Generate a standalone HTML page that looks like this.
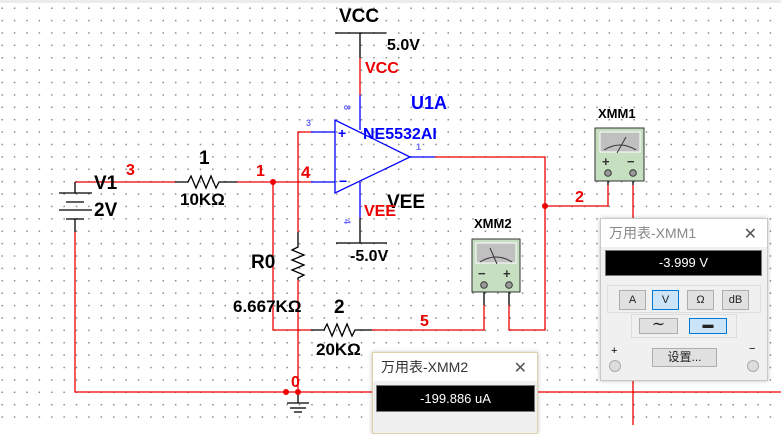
<!DOCTYPE html>
<html><head><meta charset="utf-8"><style>
html,body{margin:0;padding:0;width:781px;height:425px;overflow:hidden;background:#fff}
.bg{position:absolute;left:0;top:0;width:781px;height:425px;
background-image:radial-gradient(circle,#8a8a8a 0.7px,transparent 1px);
background-size:12.4px 12.4px;background-position:-4px 2px}
svg{position:absolute;left:0;top:0}
text{font-family:"Liberation Sans",Arial,sans-serif;font-weight:bold}
.win{position:absolute;background:#f0f0f0;border:1px solid #c8c8c8;box-shadow:0 0 4px rgba(0,0,0,.25);font-family:"Liberation Sans","Noto Sans CJK SC",sans-serif}
.tb{background:#fff;color:#888;font-size:14px;padding-left:8px;position:relative}
.x{position:absolute;right:10px;top:2px;font-size:16px;color:#555}
.disp{position:absolute;background:#000;color:#fff;text-align:center;font-size:13px;border:1px solid #777}
.btn{position:absolute;background:#e1e1e1;border:1px solid #adadad;font-size:11px;text-align:center;line-height:18px;color:#222}
.sel{background:#cce4f7;border-color:#0078d7}
</style></head><body>
<div class="bg"></div>
<div style="position:absolute;left:0;top:0;width:781px;height:3px;background:#ececec"></div>
<svg width="781" height="425" viewBox="0 0 781 425">
<g fill="none" stroke-width="1.3">
<line x1="335" y1="33" x2="386" y2="33" stroke="#000"/>
<line x1="360" y1="33" x2="360" y2="58" stroke="#000"/>
<line x1="360" y1="58" x2="360" y2="95" stroke="#e00"/>
<line x1="360" y1="95" x2="360" y2="130" stroke="#00f"/>
<line x1="360" y1="182" x2="360" y2="218" stroke="#00f"/>
<line x1="360" y1="218" x2="360" y2="243" stroke="#000"/>
<line x1="336" y1="243" x2="387" y2="243" stroke="#000"/>
<polygon points="335,120 335,193 410,157" stroke="#00f"/>
<line x1="311" y1="132" x2="335" y2="132" stroke="#00f"/>
<line x1="311" y1="182" x2="335" y2="182" stroke="#00f"/>
<line x1="410" y1="157" x2="435" y2="157" stroke="#00f"/>
<polyline points="311,132 298,132 298,232" stroke="#e00"/>
<polyline points="298,280 298,392" stroke="#e00"/>
<line x1="75" y1="182" x2="175" y2="182" stroke="#e00"/>
<line x1="237" y1="182" x2="311" y2="182" stroke="#e00"/>
<polyline points="273,182 273,330 311,330" stroke="#e00"/>
<polyline points="372,330 484,330 484,305" stroke="#e00"/>
<polyline points="435,157 545,157 545,330 509,330 509,305" stroke="#e00"/>
<polyline points="545,206 608,206 608,185" stroke="#e00"/>
<line x1="633" y1="185" x2="633" y2="425" stroke="#e00"/>
<polyline points="75,232 75,392 781,392" stroke="#e00"/>
<line x1="608" y1="173" x2="608" y2="185" stroke="#000"/>
<line x1="633" y1="173" x2="633" y2="185" stroke="#000"/>
<line x1="484" y1="285" x2="484" y2="305" stroke="#000"/>
<line x1="509" y1="285" x2="509" y2="305" stroke="#000"/>
<polyline points="175,182 188,182 191,176 196,188 201,176 206,188 211,176 216,188 219,182 237,182" stroke="#000"/>
<polyline points="298,232 298,247 292,250 304,255 292,260 304,265 292,270 304,275 298,278 298,280" stroke="#000"/>
<polyline points="311,330 324,330 327,324 332,336 337,324 342,336 347,324 352,336 355,330 372,330" stroke="#000"/>
<line x1="75" y1="182" x2="75" y2="193" stroke="#000"/>
<line x1="59" y1="193" x2="92" y2="193" stroke="#000"/>
<line x1="66" y1="202" x2="84" y2="202" stroke="#000"/>
<line x1="59" y1="210" x2="92" y2="210" stroke="#000"/>
<line x1="66" y1="219" x2="84" y2="219" stroke="#000"/>
<line x1="75" y1="219" x2="75" y2="232" stroke="#000"/>
<line x1="298" y1="392" x2="298" y2="403" stroke="#000"/>
<line x1="287" y1="403" x2="309" y2="403" stroke="#000"/>
<line x1="290" y1="408" x2="306" y2="408" stroke="#000"/>
<line x1="294" y1="412" x2="302" y2="412" stroke="#000"/>
</g>
<circle cx="273" cy="182" r="3" fill="#e00"/>
<circle cx="545" cy="206" r="3" fill="#e00"/>
<circle cx="286" cy="392" r="3" fill="#e00"/>
<circle cx="298" cy="392" r="3" fill="#e00"/>
<text x="338" y="138" font-size="14" fill="#00f">+</text>
<text x="339" y="186" font-size="14" fill="#00f">−</text>
<g>
<rect x="595" y="128" width="49" height="53" fill="#c5dfc0" stroke="#333"/>
<rect x="600" y="132" width="40" height="20" fill="#c0c0c0" stroke="#fff"/>
<path d="M604,150 Q620,140 636,150" fill="none" stroke="#333"/>
<line x1="617" y1="153" x2="626" y2="137" stroke="#333"/>
<text x="602" y="166" font-size="13" fill="#333" font-weight="normal">+</text>
<text x="627" y="166" font-size="13" fill="#333" font-weight="normal">−</text>
<circle cx="608" cy="173" r="3.3" fill="#999" stroke="#333"/>
<circle cx="633" cy="173" r="3.3" fill="#999" stroke="#333"/>
<rect x="472" y="239" width="48" height="53" fill="#c5dfc0" stroke="#333"/>
<rect x="476" y="243" width="40" height="20" fill="#c0c0c0" stroke="#fff"/>
<path d="M480,262 Q496,252 512,262" fill="none" stroke="#333"/>
<line x1="490" y1="248" x2="497" y2="264" stroke="#333"/>
<text x="478" y="278" font-size="13" fill="#333" font-weight="normal">−</text>
<text x="503" y="278" font-size="13" fill="#333" font-weight="normal">+</text>
<circle cx="484" cy="285" r="3.3" fill="#999" stroke="#333"/>
<circle cx="509" cy="285" r="3.3" fill="#999" stroke="#333"/>
</g>
<g fill="#000">
<text x="339" y="22" font-size="19">VCC</text>
<text x="387" y="50" font-size="16">5.0V</text>
<text x="387" y="208" font-size="19">VEE</text>
<text x="350" y="261" font-size="16">-5.0V</text>
<text x="94" y="189" font-size="19">V1</text>
<text x="94" y="216" font-size="19">2V</text>
<text x="199" y="164" font-size="19">1</text>
<text x="180" y="205" font-size="17">10KΩ</text>
<text x="251" y="268" font-size="19">R0</text>
<text x="233" y="312" font-size="17">6.667KΩ</text>
<text x="334" y="313" font-size="19">2</text>
<text x="316" y="355" font-size="17">20KΩ</text>
<text x="598" y="118" font-size="13">XMM1</text>
<text x="474" y="228" font-size="13">XMM2</text>
</g>
<g fill="#e00">
<text x="126" y="175" font-size="16">3</text>
<text x="256" y="176" font-size="16">1</text>
<text x="301" y="178" font-size="17">4</text>
<text x="575" y="202" font-size="16">2</text>
<text x="420" y="326" font-size="16">5</text>
<text x="291" y="387" font-size="16">0</text>
<text x="365" y="73" font-size="16">VCC</text>
<text x="364" y="216" font-size="16">VEE</text>
</g>
<g fill="#00f">
<text x="411" y="109" font-size="18">U1A</text>
<text x="363" y="139" font-size="16">NE5532AI</text>
<text x="416" y="150" font-size="9" font-weight="normal" fill="#66f">1</text>
<text x="306" y="126" font-size="9" font-weight="normal" fill="#66f">3</text>
<text x="344" y="111" font-size="9" font-weight="normal" fill="#66f" transform="rotate(90 347 108)">8</text>
<text x="344" y="225" font-size="9" font-weight="normal" fill="#66f" transform="rotate(90 347 222)">4</text>
</g>
</svg>

<div class="win" style="left:600px;top:218px;width:166px;height:161px">
<div class="tb" style="height:28px;line-height:28px">万用表-XMM1<span class="x">✕</span></div>
<div class="disp" style="left:4px;top:31px;width:155px;height:24px;line-height:24px">-3.999 V</div>
<div style="position:absolute;left:6px;top:66px;width:152px;height:26px;border:1px solid #ddd"></div>
<div class="btn" style="left:18px;top:71px;width:25px">A</div>
<div class="btn sel" style="left:51px;top:71px;width:25px">V</div>
<div class="btn" style="left:86px;top:71px;width:25px">Ω</div>
<div class="btn" style="left:121px;top:71px;width:25px">dB</div>
<div style="position:absolute;left:30px;top:95px;width:104px;height:22px;border:1px solid #ddd"></div>
<div class="btn" style="left:38px;top:99px;width:37px;height:14px;line-height:12px;font-size:16px">∼</div>
<div class="btn sel" style="left:88px;top:99px;width:36px;height:14px;line-height:12px">▬</div>
<div class="btn" style="left:51px;top:129px;width:63px;height:17px;line-height:16px;font-size:12px">设置...</div>
<div style="position:absolute;left:10px;top:126px;font-size:11px">+</div>
<div style="position:absolute;left:148px;top:124px;font-size:11px">−</div>
<div style="position:absolute;left:8px;top:141px;width:10px;height:10px;border-radius:50%;border:1px solid #aaa;background:#ddd"></div>
<div style="position:absolute;left:146px;top:141px;width:10px;height:10px;border-radius:50%;border:1px solid #aaa;background:#ddd"></div>
</div>

<div class="win" style="left:372px;top:352px;width:164px;height:80px;border-color:#e0d2a8">
<div class="tb" style="height:28px;line-height:28px;color:#333">万用表-XMM2<span class="x">✕</span></div>
<div class="disp" style="left:3px;top:32px;width:157px;height:25px;line-height:25px">-199.886 uA</div>
</div>
</body></html>
